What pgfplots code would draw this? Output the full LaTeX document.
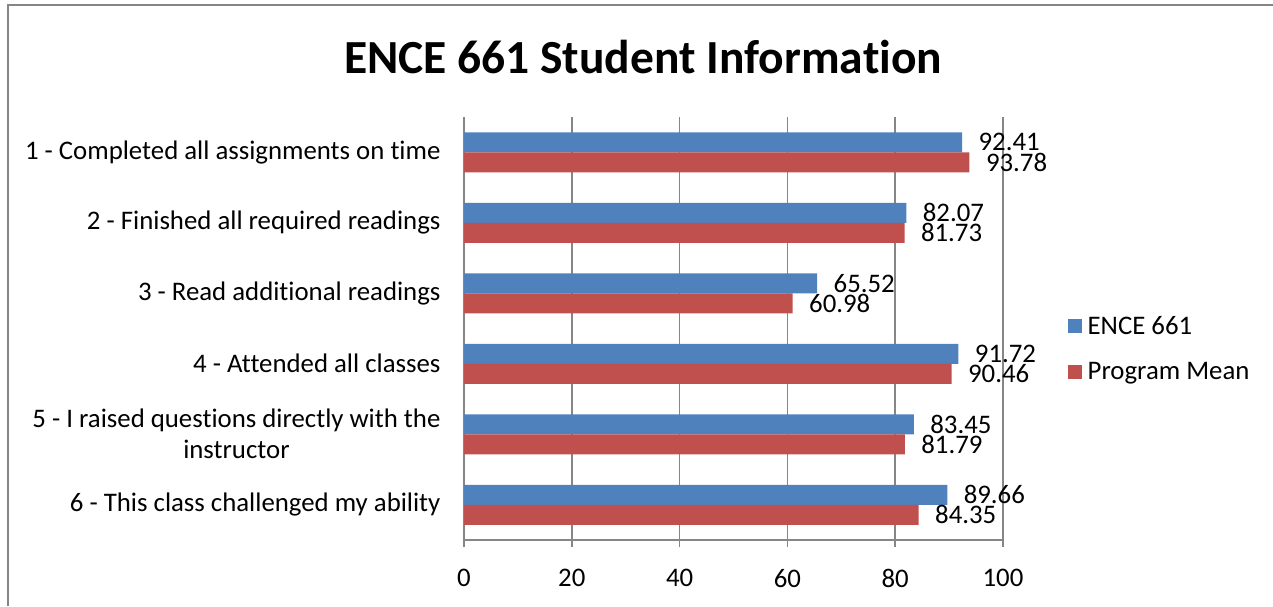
\documentclass[border=0pt]{standalone}
\usepackage{pgfplots}
\pgfplotsset{compat=1.18}
\usepackage{fontspec}
\setmainfont{Carlito}[Ligatures=NoCommon]
\definecolor{serA}{HTML}{4F81BD}
\definecolor{serB}{HTML}{C0504D}
\definecolor{axgray}{HTML}{868686}
\newcommand\lblfont{\fontsize{26.8}{31}\selectfont}
\begin{document}
\begin{tikzpicture}
\path[use as bounding box] (0pt,-606pt) rectangle (1273pt,0pt);
\draw[axgray, line width=2pt] (8pt,-606pt) -- (8pt,-5pt) -- (1273pt,-5pt);
\begin{axis}[
  at={(464pt,-540pt)}, anchor=south west,
  scale only axis, width=539pt, height=423pt,
  xbar, bar width=20pt, clip=false,
  xmin=0, xmax=100, xtick={0,20,...,100},
  ymin=0.5, ymax=6.5, y dir=reverse,
  ytick={1,...,6},
  yticklabels={1 - Completed all assignments on time,
    2 - Finished all required readings,
    3 - Read additional readings,
    4 - Attended all classes,
    {5 - I raised questions directly with the\\instructor},
    6 - This class challenged my ability},
  yticklabel style={align=center, font=\lblfont, xshift=-13pt},
  xticklabel style={font=\lblfont, yshift=-19pt},
  /pgf/number format/assume math mode=true,
  major y tick style={draw=none},
  extra y ticks={0.5,1.5,...,6.5}, extra y tick labels={},
  extra y tick style={tick align=outside, major tick length=7pt,
    major tick style={axgray, line width=1.5pt}},
  axis x line*=bottom, axis y line*=left,
  axis line style={axgray, line width=1.5pt},
  tick align=outside, major tick length=7pt,
  x tick style={axgray, line width=1.5pt},
  xmajorgrids, grid style={axgray, line width=1.5pt},
  point meta=x,
  nodes near coords={\pgfmathprintnumber[fixed,zerofill,precision=2]{\pgfplotspointmeta}},
  every node near coord/.append style={font=\lblfont, black, xshift=13pt},
  legend style={at={(1.114,0.452)}, anchor=west, draw=none, fill=none,
    font=\lblfont, row sep=22pt, legend cell align=left,
    /tikz/every odd column/.style={column sep=4pt}},
  legend image code/.code={\fill[#1] (0pt,-7pt) rectangle (14pt,7pt);},
]
\addplot[fill=serA, draw=none, bar shift=10pt] coordinates {
  (92.41,1) (82.07,2) (65.52,3) (91.72,4) (83.45,5) (89.66,6)};
\addlegendentry{ENCE 661}
\addplot[fill=serB, draw=none, bar shift=-10pt] coordinates {
  (93.78,1) (81.73,2) (60.98,3) (90.46,4) (81.79,5) (84.35,6)};
\addlegendentry{Program Mean}
\end{axis}
\node[font=\bfseries\fontsize{47.5}{57}\selectfont] at (643pt,-57pt) {ENCE 661 Student Information};
\end{tikzpicture}
\end{document}
